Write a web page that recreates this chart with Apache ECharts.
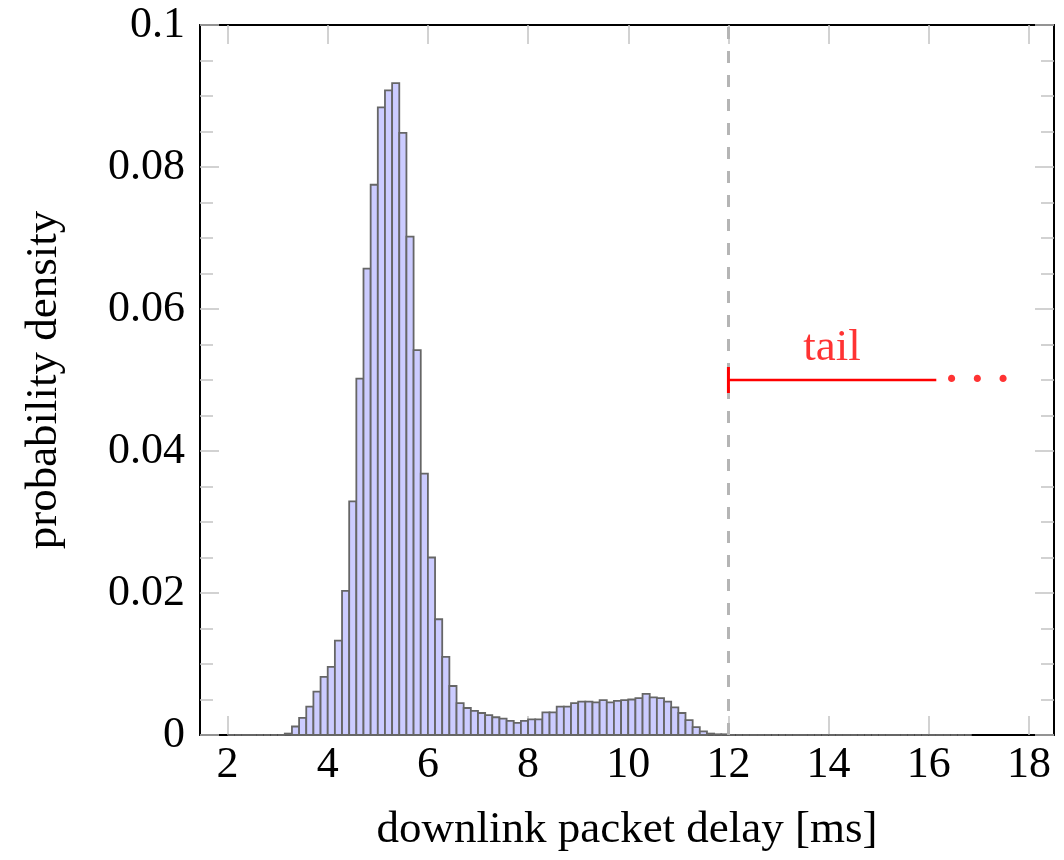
<!DOCTYPE html>
<html>
<head>
<meta charset="utf-8">
<script src="https://cdn.jsdelivr.net/npm/echarts@6/dist/echarts.min.js"></script>
<style>
  html, body { margin: 0; padding: 0; background: #fff; }
  #chart { width: 1064px; height: 860px; }
</style>
</head>
<body>
<div id="chart"></div>
<script>
// histogram bins: start, width and density per bin
var binStart = 2;
var binWidth = 1 / 7;
var density = [
  0, 0, 0, 0, 0, 0, 0, 0,
  0.0002, 0.0012, 0.0024, 0.0040, 0.0061, 0.0082, 0.0096, 0.0133,
  0.0203, 0.0329, 0.0502, 0.0657, 0.0775, 0.0884, 0.0908, 0.0918,
  0.0848, 0.0702, 0.0542, 0.0368, 0.0250, 0.0163, 0.0110, 0.0069,
  0.0045, 0.0038, 0.0034, 0.0031, 0.0028, 0.0025, 0.0023, 0.0020,
  0.0017, 0.0020, 0.0022, 0.0022, 0.0032, 0.0032, 0.0040, 0.0040,
  0.0045, 0.0047, 0.0047, 0.0046, 0.0049, 0.0046, 0.0048, 0.0049,
  0.0050, 0.0052, 0.0058, 0.0053, 0.0052, 0.0047, 0.0039, 0.0031,
  0.0021, 0.0011, 0.0005, 0.0002, 0.0001, 0.0001,
  0, 0, 0, 0, 0, 0, 0, 0, 0, 0, 0, 0, 0, 0, 0, 0, 0, 0, 0, 0,
  0, 0, 0, 0, 0, 0, 0, 0, 0, 0, 0, 0, 0, 0
];
var xTicks = [2, 4, 6, 8, 10, 12, 14, 16, 18];
var tailStart = 12;
var tailLine = [[12, 0.05], [16.15, 0.05]];
var tailText = [[14.07, 0.0545]];
var tailDots = [[16.97, 0.0497]];

var bins = density.map(function (d, k) {
  return [binStart + k * binWidth, binStart + (k + 1) * binWidth, d];
});

var font = 'Liberation Serif';
var tickColor = '#c4c4c4';

function yFmt(v) {
  if (v === 0) return '0';
  return String(parseFloat(v.toFixed(3)));
}

var myChart = echarts.init(document.getElementById('chart'));
var option = {
  animation: false,
  backgroundColor: '#ffffff',
  grid: { left: 200, right: 10, top: 25, bottom: 125 },
  xAxis: [{
    type: 'value',
    min: 1.45,
    max: 18.5,
    name: 'downlink packet delay [ms]',
    nameLocation: 'middle',
    nameGap: 73,
    nameTextStyle: { fontFamily: font, fontSize: 45, color: '#000' },
    axisLine: { show: true, onZero: false, lineStyle: { color: '#000', width: 2 } },
    axisTick: { show: true, inside: true, length: 19, customValues: xTicks,
      lineStyle: { color: tickColor, width: 1.5 } },
    axisLabel: { customValues: xTicks, margin: 8, fontFamily: font, fontSize: 44, color: '#000' },
    splitLine: { show: false }
  }, {
    type: 'value',
    position: 'top',
    min: 1.45,
    max: 18.5,
    axisLine: { show: true, onZero: false, lineStyle: { color: '#000', width: 2 } },
    axisTick: { show: true, inside: true, length: 19, customValues: xTicks,
      lineStyle: { color: tickColor, width: 1.5 } },
    axisLabel: { show: false },
    splitLine: { show: false }
  }],
  yAxis: [{
    type: 'value',
    min: 0,
    max: 0.1,
    interval: 0.02,
    name: 'probability density',
    nameLocation: 'middle',
    nameGap: 133,
    nameTextStyle: { fontFamily: font, fontSize: 45, color: '#000' },
    axisLine: { show: true, onZero: false, lineStyle: { color: '#000', width: 2 } },
    axisTick: { show: true, inside: true, length: 19, lineStyle: { color: tickColor, width: 1.5 } },
    minorTick: { show: true, splitNumber: 4, length: 13, lineStyle: { color: tickColor, width: 1.5 } },
    axisLabel: { margin: 15, fontFamily: font, fontSize: 44, color: '#000', formatter: yFmt },
    splitLine: { show: false }
  }, {
    type: 'value',
    position: 'right',
    min: 0,
    max: 0.1,
    interval: 0.02,
    axisLine: { show: true, onZero: false, lineStyle: { color: '#000', width: 2 } },
    axisTick: { show: true, inside: true, length: 19, lineStyle: { color: tickColor, width: 1.5 } },
    minorTick: { show: true, splitNumber: 4, length: 13, lineStyle: { color: tickColor, width: 1.5 } },
    axisLabel: { show: false },
    splitLine: { show: false }
  }],
  series: [{
    type: 'custom',
    xAxisIndex: 0,
    yAxisIndex: 0,
    data: bins,
    renderItem: function (params, api) {
      var p0 = api.coord([api.value(0), api.value(2)]);
      var p1 = api.coord([api.value(1), 0]);
      return {
        type: 'rect',
        shape: { x: p0[0], y: p0[1], width: p1[0] - p0[0], height: p1[1] - p0[1] },
        style: { fill: '#ccccff', stroke: '#666666', lineWidth: 1.8 }
      };
    },
    markLine: {
      silent: true,
      symbol: 'none',
      label: { show: false },
      lineStyle: { type: [12, 12], color: '#b5b5b5', width: 3 },
      data: [{ xAxis: tailStart }]
    }
  }, {
    type: 'line',
    z: 5,
    data: [
      { value: tailLine[0], symbol: 'rect', symbolSize: [3, 26] },
      { value: tailLine[1], symbol: 'none' }
    ],
    lineStyle: { color: '#ff0000', width: 2.5 },
    itemStyle: { color: '#ff0000' }
  }, {
    type: 'scatter',
    z: 5,
    symbolSize: 0,
    data: tailText,
    label: { show: true, position: 'inside', formatter: 'tail',
      fontFamily: font, fontSize: 45, color: '#ff0000' }
  }, {
    type: 'scatter',
    z: 5,
    symbolSize: 0,
    data: tailDots,
    label: { show: true, position: 'inside', formatter: '\u00b7 \u00b7 \u00b7',
      fontFamily: font, fontSize: 44, fontWeight: 'bold', color: '#ff0000' }
  }]
};
myChart.setOption(option);
</script>
</body>
</html>
